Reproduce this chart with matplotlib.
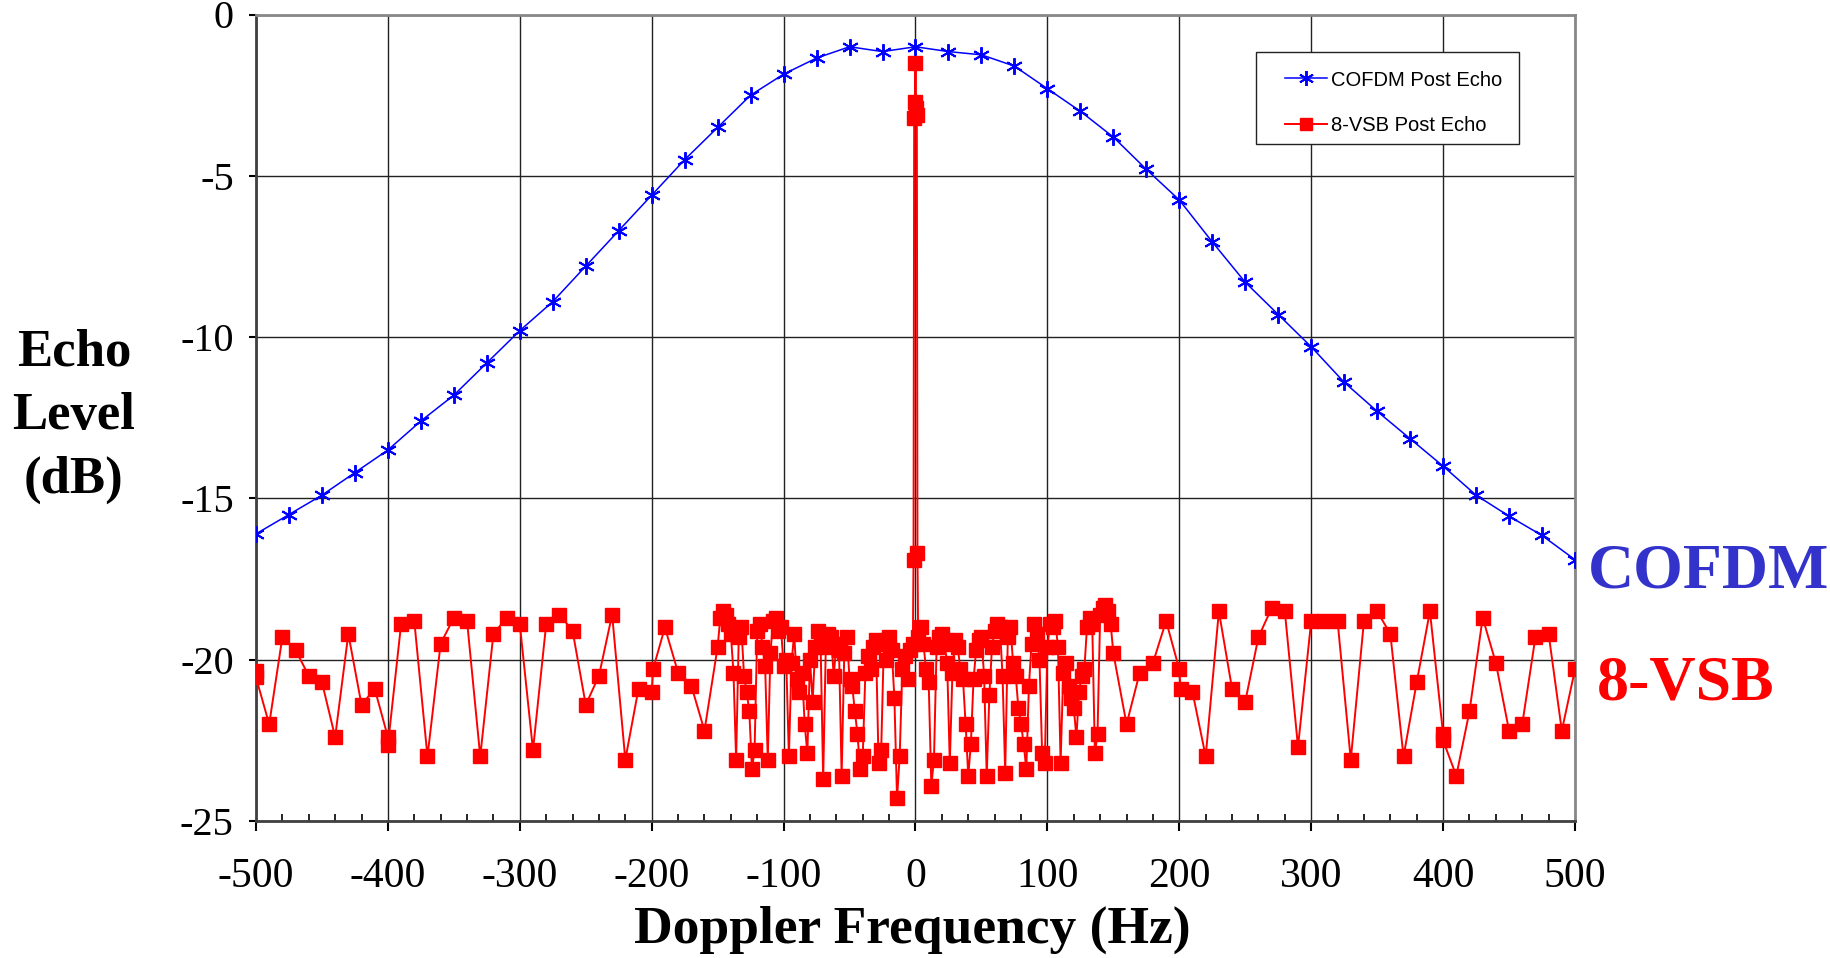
import matplotlib
matplotlib.use('Agg')
import matplotlib.pyplot as plt
from matplotlib.patches import Rectangle
from matplotlib.ticker import MultipleLocator

plt.rcParams['axes.unicode_minus'] = False

# COFDM post echo, one point every 25 Hz
cofdm_hz = [-500, -475, -450, -425, -400, -375, -350, -325, -300, -275, -250,
            -225, -200, -175, -150, -125, -100, -75, -50, -25, 0, 25, 50, 75,
            100, 125, 150, 175, 200, 225, 250, 275, 300, 325, 350, 375, 400,
            425, 450, 475, 500]
cofdm_db = [-16.1, -15.5, -14.9, -14.2, -13.5, -12.6, -11.8, -10.8, -9.8, -8.9,
            -7.8, -6.7, -5.6, -4.5, -3.5, -2.5, -1.85, -1.35, -1.0, -1.15, -1.0,
            -1.15, -1.25, -1.6, -2.3, -3.0, -3.8, -4.8, -5.75, -7.05, -8.3,
            -9.3, -10.3, -11.4, -12.3, -13.15, -14.0, -14.9, -15.55, -16.15,
            -16.9]

# 8-VSB post echo
vsb_hz = [-500, -500, -490, -480, -470, -460, -450, -440, -430, -420, -410,
          -400, -400, -390, -380, -370, -360, -350, -340, -330, -320, -310,
          -300, -290, -280, -270, -260, -250, -240, -230, -220, -210, -200,
          -199, -190, -180, -170, -160,
          -150, -148, -146, -144, -142, -140, -138, -136, -134, -132, -130,
          -128, -126, -124, -122, -120, -118, -116, -114, -112, -110, -108,
          -106, -104, -102, -100, -98, -96, -94, -92, -90, -88, -86, -84, -82,
          -80, -78, -76, -74, -72, -70, -68, -66, -64, -62, -60, -58, -56, -54,
          -52, -50, -48, -46, -44, -42, -40, -38, -36, -34, -32, -30, -28, -26,
          -24, -22, -20, -18, -16, -14, -12, -10, -8, -6, -4, -2,
          -1.5, -1, -0.5, 0, 0.5, 1, 1.5,
          2, 4, 6, 8, 10, 12, 14, 16, 18, 20, 22, 24, 26, 28, 30, 32, 34, 36,
          38, 40, 42, 44, 46, 48, 50, 52, 54, 56, 58, 60, 62, 64, 66, 68, 70,
          72, 74, 76, 78, 80, 82, 84, 86, 88, 90, 92, 94, 96, 98, 100, 102,
          104, 106, 108, 110, 112, 114, 116, 118, 120, 122, 124, 126, 128, 130,
          132, 134, 136, 138, 140, 142, 144, 146, 148, 150,
          160, 170, 180, 190, 200, 201, 210, 220, 230, 240, 250, 260, 270, 280,
          290, 300, 310, 320, 330, 340, 350, 360, 370, 380, 390, 400, 400, 410,
          420, 430, 440, 450, 460, 470, 480, 490, 500]
vsb_db = [-20.35, -20.55, -22.0, -19.3, -19.7, -20.5, -20.7, -22.4, -19.2, -21.4,
          -20.9, -22.4, -22.65, -18.9, -18.8, -23.0, -19.5, -18.7, -18.8, -23.0,
          -19.2, -18.7, -18.9, -22.8, -18.9, -18.6, -19.1, -21.4, -20.5, -18.6,
          -23.1, -20.9, -21.0, -20.3, -19.0, -20.4, -20.8, -22.2,
          -19.6, -18.7, -18.5, -18.6, -18.9, -19.2, -20.4, -23.1, -19.3, -19.0,
          -20.5, -21.0, -21.6, -23.4, -22.8, -19.1, -18.9, -19.6, -20.2, -23.1,
          -19.8, -18.8, -18.7, -19.1, -19.0, -20.2, -20.0, -23.0, -20.1, -19.2,
          -20.6, -21.0, -20.4, -22.0, -22.9, -20.0, -21.3, -19.6, -19.1, -19.4,
          -23.7, -19.6, -19.2, -19.3, -20.5, -19.5, -19.7, -23.6, -19.8, -19.3,
          -20.6, -20.8, -21.6, -22.3, -23.4, -23.0, -20.4, -19.9, -20.3, -19.6,
          -19.4, -23.2, -22.8, -19.5, -20.0, -19.3, -19.7, -21.2, -24.3, -23.0,
          -20.3, -19.9, -20.6, -19.7, -19.5,
          -16.9, -3.2, -2.7, -1.5, -2.9, -3.1, -16.7,
          -19.3, -19.0, -19.5, -20.3, -20.7, -23.9, -23.1, -19.6, -19.3, -19.2,
          -19.5, -20.1, -23.2, -20.4, -19.4, -19.6, -20.3, -20.6, -22.0, -23.6,
          -22.6, -20.6, -19.7, -19.4, -19.3, -20.5, -23.6, -21.1, -19.6, -19.1,
          -18.9, -19.0, -20.5, -23.5, -19.3, -19.0, -20.1, -20.5, -21.5, -22.0,
          -22.6, -23.4, -20.8, -19.5, -18.9, -19.2, -20.0, -22.9, -23.2, -19.6,
          -18.9, -19.0, -18.8, -19.6, -23.2, -20.4, -20.1, -20.8, -21.2, -21.5,
          -22.4, -21.0, -20.5, -20.3, -19.0, -18.7, -18.9, -22.9, -22.3, -18.6,
          -18.4, -18.3, -18.5, -18.9, -19.8,
          -22.0, -20.4, -20.1, -18.8, -20.3, -20.9, -21.0, -23.0, -18.5, -20.9,
          -21.3, -19.3, -18.4, -18.5, -22.7, -18.8, -18.8, -18.8, -23.1, -18.8,
          -18.5, -19.2, -23.0, -20.7, -18.5, -22.3, -22.5, -23.6, -21.6, -18.7,
          -20.1, -22.2, -22.0, -19.3, -19.2, -22.2, -20.3]

x_ticks = [-500, -400, -300, -200, -100, 0, 100, 200, 300, 400, 500]
x_labels = ['-500', '-400', '-300', '-200', '-100', '0', '100', '200', '300',
            '400', '500']
y_ticks = [-25, -20, -15, -10, -5, 0]
y_labels = ['-25', '-20', '-15', '-10', '-5', '0']

W, H = 1831, 958
fig = plt.figure(figsize=(W / 100, H / 100), dpi=100)
ax = fig.add_axes([256 / W, 1 - 821 / H, (1575 - 256) / W, (821 - 14.5) / H])

ax.plot(vsb_hz, vsb_db, color='#ff0000', lw=1.4, marker='s', ms=9.5,
        mec='#ff0000', mfc='#ff0000', label='8-VSB Post Echo', zorder=3)
ax.plot(cofdm_hz, cofdm_db, color='#0000ff', lw=1.1, marker=(6, 2, 0), ms=12,
        mew=1.4, label='COFDM Post Echo', zorder=4)

ax.set_xlim(-500, 500)
ax.set_ylim(-25, 0)
ax.set_xticks(x_ticks)
ax.set_xticklabels(x_labels)
ax.set_yticks(y_ticks)
ax.set_yticklabels(y_labels)
ax.xaxis.set_minor_locator(MultipleLocator(20))

serif = 'Liberation Serif'
ax.tick_params(axis='x', which='major', direction='out', length=7, width=1.5,
               pad=19, labelsize=30, labelfontfamily=serif)
ax.tick_params(axis='x', which='minor', direction='in', length=5, width=1.2)
ax.tick_params(axis='y', which='major', direction='out', length=5, width=1.5,
               pad=11, labelsize=29, labelfontfamily=serif)

ax.grid(True, which='major', color='#222222', lw=1.0)
ax.set_axisbelow(True)
for side in ['left', 'bottom']:
    ax.spines[side].set_color('#404040')
    ax.spines[side].set_linewidth(2)
for side in ['top', 'right']:
    ax.spines[side].set_color('#888888')
    ax.spines[side].set_linewidth(2)

# legend box drawn separately so its padding can differ from the entries
fig.patches.append(Rectangle((1256 / W, 1 - 144 / H), (1519 - 1256) / W,
                             (144 - 52) / H, transform=fig.transFigure,
                             facecolor='white', edgecolor='#222222', lw=1.0,
                             zorder=5))
handles, labels = ax.get_legend_handles_labels()
leg = fig.legend(handles[::-1], labels[::-1], loc='upper left',
                 bbox_to_anchor=(1285 / W, 1 - 70.5 / H), borderaxespad=0,
                 borderpad=0, frameon=False,
                 prop={'family': 'Liberation Sans', 'size': 14.5},
                 handlelength=2.1, labelspacing=1.3, handletextpad=0.2,
                 markerscale=0.9)
leg.set_zorder(6)

fig.text(74 / W, 1 - 416 / H, 'Echo\nLevel\n(dB)', ha='center', va='center',
         family=serif, weight='bold', size=38, linespacing=1.42)
fig.text(912 / W, 1 - 930 / H, 'Doppler Frequency (Hz)', ha='center',
         va='center', family=serif, weight='bold', size=38.5)
fig.text(1588 / W, 1 - 588 / H, 'COFDM', ha='left', va='baseline',
         family=serif, weight='bold', size=46, color='#3333cc')
fig.text(1597 / W, 1 - 700 / H, '8-VSB', ha='left', va='baseline',
         family=serif, weight='bold', size=46, color='#ff0000')

fig.savefig('out.png', dpi=100)
